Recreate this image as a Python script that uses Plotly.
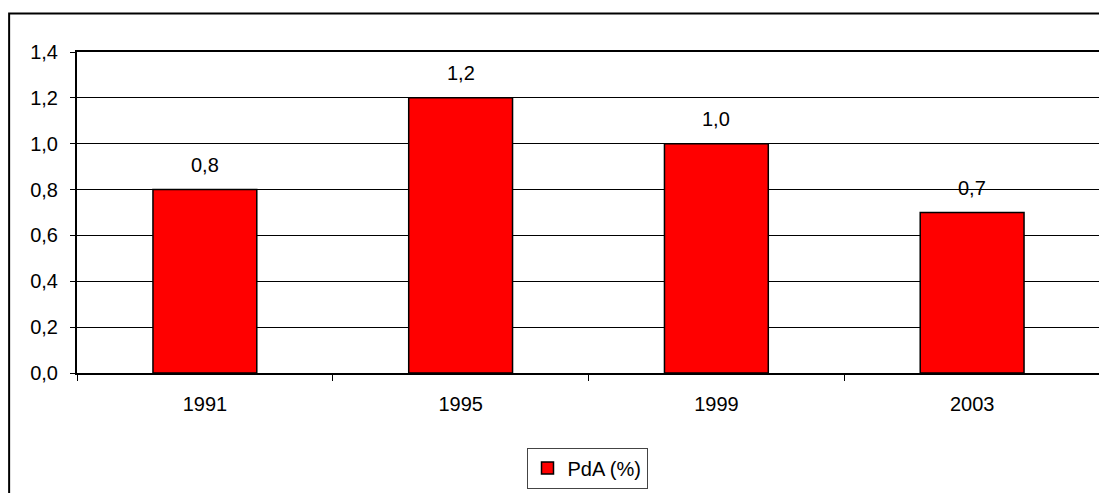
import plotly.graph_objects as go

anos = ["1991", "1995", "1999", "2003"]
pda = [0.8, 1.2, 1.0, 0.7]
etiquetas = ["0,8", "1,2", "1,0", "0,7"]
nombre_serie = "PdA (%)"

# la página tiene 8px de margen en el body, así que la figura se desplaza
W, H = 1099, 485
L, R, T, B = 69, 5, 44, 118
pw, ph = W - L - R, H - T - B


def px_x(p):
    return (p - L) / pw


def px_y(p):
    return (H - B - p) / ph


fig = go.Figure()
fig.add_trace(go.Bar(
    x=anos, y=pda, name=nombre_serie,
    marker=dict(color="#ff0000", line=dict(color="black", width=1.5)),
    showlegend=True,
))

# etiquetas de datos encima de cada barra (x como índice de categoría,
# porque "1991" se leería como número)
for i, (v, t) in enumerate(zip(pda, etiquetas)):
    fig.add_annotation(x=i, y=v, text=t, showarrow=False,
                       yanchor="middle", yshift=25,
                       font=dict(size=20, color="black"))

# marco exterior del gráfico
fig.add_shape(type="rect", xref="paper", yref="paper",
              x0=px_x(1), x1=px_x(1097), y0=px_y(520), y1=px_y(5.3),
              line=dict(color="black", width=2), layer="below")

fig.update_layout(
    width=W, height=H,
    margin=dict(l=L, r=R, t=T, b=B),
    paper_bgcolor="white", plot_bgcolor="white",
    font=dict(family="Liberation Sans, Arial", size=20, color="black"),
    separators=",.",
    bargap=0.594,
    showlegend=True,
    legend=dict(
        orientation="h", x=px_x(580), xanchor="center",
        y=px_y(442), yanchor="top",
        bordercolor="#444", borderwidth=1, bgcolor="white",
        font=dict(size=20),
    ),
    xaxis=dict(
        type="category", tickson="boundaries", ticks="outside", ticklen=6,
        tickcolor="black", showline=True, linecolor="black", linewidth=2,
        mirror=True, showgrid=False, ticklabelstandoff=12,
        range=[-0.5, len(anos) - 0.5],
    ),
    yaxis=dict(
        range=[0, 1.4], dtick=0.2, tickformat=".1f", ticks="outside",
        ticklen=5, tickcolor="black", showline=True, linecolor="black",
        linewidth=2, mirror=True, showgrid=True, gridcolor="black",
        gridwidth=1, zeroline=False, ticklabelstandoff=8,
    ),
)

fig.write_html("out.html")
